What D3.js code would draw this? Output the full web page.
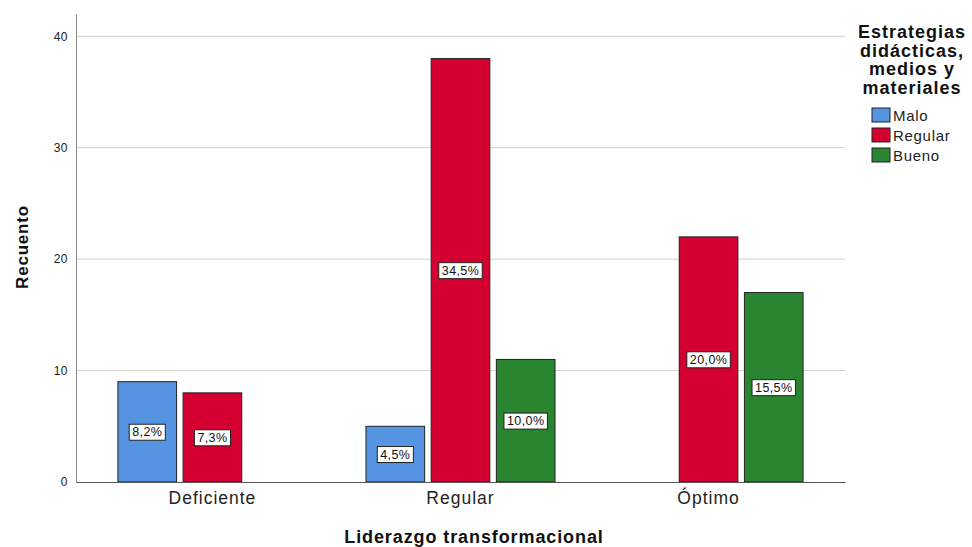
<!DOCTYPE html>
<html>
<head>
<meta charset="utf-8">
<script src="https://cdn.jsdelivr.net/npm/d3@7"></script>
<style>
  body { margin: 0; background: #fff; }
  svg { font-family: "Liberation Sans", Arial, sans-serif; }
</style>
</head>
<body>
<div id="chart"></div>
<script>
var categories = ["Deficiente", "Regular", "Óptimo"];
var series = ["Malo", "Regular", "Bueno"];
var colors = ["#5594E0", "#D50032", "#2A8530"];
// counts per category, one array per series (null = no bar)
var maloVals = [9, 5, null];
var regularVals = [8, 38, 22];
var buenoVals = [null, 11, 17];
var maloPct = ["8,2%", "4,5%", null];
var regularPct = ["7,3%", "34,5%", "20,0%"];
var buenoPct = [null, "10,0%", "15,5%"];
var yTicks = [0, 10, 20, 30, 40];

var W = 972, H = 547;
var margin = {left: 76, right: 127, top: 14, bottom: 65};
var width = W - margin.left - margin.right,
    height = H - margin.top - margin.bottom;

var svg = d3.select("#chart").append("svg")
  .attr("width", W).attr("height", H);

var g = svg.append("g")
  .attr("transform", "translate(" + margin.left + "," + margin.top + ")");

var x0 = d3.scaleBand().domain(categories).range([0, width]).paddingOuter(0.05);
var groupW = x0.step() * 0.762;
var x1 = d3.scaleBand().domain(series).range([0, groupW]).paddingInner(0.1);
var y = d3.scaleLinear().domain([0, 42]).range([height, 0]);

// gridlines
g.selectAll(".grid").data(yTicks.slice(1)).enter().append("line")
  .attr("x1", 0).attr("x2", width)
  .attr("y1", function(d){ return y(d); }).attr("y2", function(d){ return y(d); })
  .style("stroke", "#d0d0d0").style("stroke-width", 1);

var vals = [maloVals, regularVals, buenoVals];
var pcts = [maloPct, regularPct, buenoPct];
var rows = [];
series.forEach(function(s, si){
  categories.forEach(function(c, ci){
    if (vals[si][ci] != null) rows.push({cat: c, ser: s, si: si, v: vals[si][ci], p: pcts[si][ci]});
  });
});

function barX(d){ return x0(d.cat) + (x0.bandwidth() - groupW) / 2 + x1(d.ser); }

g.selectAll(".bar").data(rows).enter().append("rect")
  .attr("x", barX)
  .attr("y", function(d){ return y(d.v); })
  .attr("width", x1.bandwidth())
  .attr("height", function(d){ return y(0) - y(d.v); })
  .style("fill", function(d){ return colors[d.si]; })
  .style("stroke", "#222").style("stroke-width", 1);

// percentage labels
var lab = g.selectAll(".lab").data(rows).enter().append("g")
  .attr("transform", function(d){
    return "translate(" + (barX(d) + x1.bandwidth() / 2) + "," + y(d.v / 2) + ")";
  });
lab.append("text")
  .attr("text-anchor", "middle").attr("dy", "0.35em")
  .style("font-size", "12.5px").style("letter-spacing", "0.4px").style("fill", "#111")
  .text(function(d){ return d.p; });
lab.each(function(){
  var t = d3.select(this).select("text").node().getBBox();
  d3.select(this).insert("rect", "text")
    .attr("x", t.x - 3).attr("y", t.y - 1)
    .attr("width", t.width + 6).attr("height", t.height + 2)
    .style("fill", "#fff").style("stroke", "#222").style("stroke-width", 1);
});

// y axis
var yAxis = g.append("g").call(d3.axisLeft(y).tickValues(yTicks).tickSize(0).tickPadding(8));
yAxis.select(".domain").style("stroke", "#888");
yAxis.selectAll("text").style("font-size", "12px").style("fill", "#222")
  .style("letter-spacing", "0.5px")
  .style("font-family", "Liberation Sans, Arial, sans-serif");

// x axis
var xAxis = g.append("g").attr("transform", "translate(0," + height + ")")
  .call(d3.axisBottom(x0).tickSize(0).tickPadding(10));
xAxis.select(".domain").style("stroke", "#555");
xAxis.selectAll("text").style("font-size", "17.5px").style("fill", "#222")
  .style("letter-spacing", "1px")
  .style("font-family", "Liberation Sans, Arial, sans-serif");

// axis titles
svg.append("text")
  .attr("transform", "translate(28,247) rotate(-90)")
  .attr("text-anchor", "middle")
  .style("font-size", "17px").style("font-weight", "bold").style("fill", "#111")
  .style("letter-spacing", "0.8px")
  .text("Recuento");

svg.append("text")
  .attr("x", 474).attr("y", 543)
  .attr("text-anchor", "middle")
  .style("font-size", "18px").style("font-weight", "bold").style("fill", "#111")
  .style("letter-spacing", "0.9px")
  .text("Liderazgo transformacional");

// legend
var legTitle = ["Estrategias", "didácticas,", "medios y", "materiales"];
svg.append("g").selectAll("text").data(legTitle).enter().append("text")
  .attr("x", 912).attr("y", function(d, i){ return 38 + i * 18.5; })
  .attr("text-anchor", "middle")
  .style("font-size", "18px").style("font-weight", "bold").style("fill", "#111")
  .style("letter-spacing", "1px")
  .text(function(d){ return d; });

var leg = svg.append("g").selectAll("g").data(series).enter().append("g")
  .attr("transform", function(d, i){ return "translate(872," + (108 + i * 20) + ")"; });
leg.append("rect").attr("width", 18).attr("height", 14)
  .style("fill", function(d, i){ return colors[i]; })
  .style("stroke", "#222").style("stroke-width", 1);
leg.append("text").attr("x", 21).attr("y", 13)
  .style("font-size", "15px").style("fill", "#222")
  .style("letter-spacing", "0.7px")
  .text(function(d){ return d; });
</script>
</body>
</html>
